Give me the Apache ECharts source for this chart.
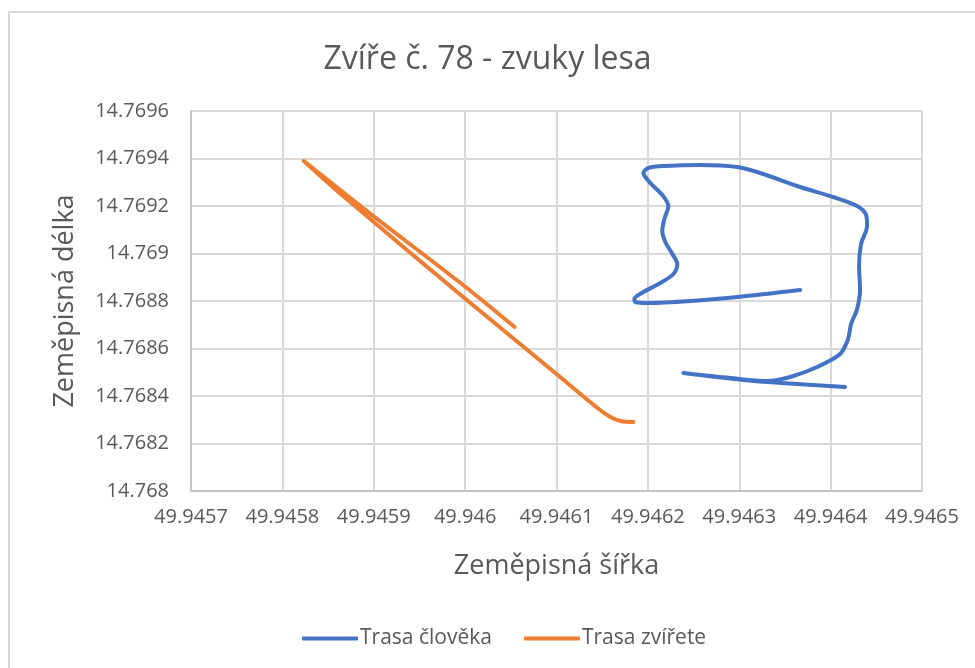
<!DOCTYPE html>
<html>
<head>
<meta charset="utf-8">
<script src="https://cdn.jsdelivr.net/npm/echarts@6/dist/echarts.min.js"></script>
<style>
html,body{margin:0;padding:0;background:#fff;}
#chart{width:975px;height:668px;}
</style>
</head>
<body>
<div id="chart"></div>
<script>
// Trasa člověka (zeměpisná šířka, zeměpisná délka)
var humanLat = [49.9463667,49.9462978,49.9462464,49.9461995,49.9461863,49.9461852,49.9461951,49.9462137,49.9462279,49.9462322,49.9462268,49.9462191,49.9462158,49.9462180,49.9462224,49.9462158,49.9462027,49.9461951,49.9462005,49.9462191,49.9462574,49.9462978,49.9463230,49.9463667,49.9464027,49.9464290,49.9464388,49.9464399,49.9464333,49.9464311,49.9464322,49.9464290,49.9464224,49.9464191,49.9464104,49.9463852,49.9463557,49.9463306,49.9462902,49.9462388,49.9462902,49.9463306,49.9464158];
var humanLon = [14.7688463,14.7688168,14.7688000,14.7687916,14.7687958,14.7688084,14.7688379,14.7688758,14.7689137,14.7689558,14.7689979,14.7690484,14.7690947,14.7691453,14.7692000,14.7692463,14.7692968,14.7693389,14.7693600,14.7693684,14.7693726,14.7693642,14.7693389,14.7692800,14.7692379,14.7692000,14.7691621,14.7691158,14.7690400,14.7689474,14.7688505,14.7687663,14.7687032,14.7686400,14.7685768,14.7685221,14.7684800,14.7684632,14.7684758,14.7684968,14.7684737,14.7684589,14.7684379];
// Trasa zvířete
var animalLat = [49.9460541,49.9460005,49.9458967,49.9458235,49.9458639,49.9460005,49.9461000,49.9461448,49.9461590,49.9461700,49.9461842];
var animalLon = [14.7686905,14.7688590,14.7691663,14.7693895,14.7692505,14.7688084,14.7684926,14.7683495,14.7683116,14.7682947,14.7682905];

var xMin = 49.9457, xMax = 49.9465, xStep = 0.0001;
var yMin = 14.768, yMax = 14.7696, yStep = 0.0002;

function pairs(a, b){ var r=[]; for (var i=0;i<a.length;i++) r.push([a[i], b[i]]); return r; }
function fmt(v){ return String(parseFloat(v.toFixed(4))); }

var FONT = '"Open Sans", "Noto Sans", sans-serif';
var TXT = '#595959';

var chart = echarts.init(document.getElementById('chart'), null, {renderer:'canvas'});
chart.setOption({
  backgroundColor: '#ffffff',
  animation: false,
  title: {
    text: 'Zvíře č. 78 - zvuky lesa',
    left: 'center', top: 39,
    textStyle: {fontFamily: FONT, fontSize: 32, fontWeight: 'normal', color: TXT}
  },
  graphic: [{
    type: 'rect', silent: true,
    shape: {x: 9, y: 12, width: 1000, height: 700},
    style: {fill: 'none', stroke: '#d9d9d9', lineWidth: 2}
  }],
  legend: {
    bottom: 14, left: 297,
    itemWidth: 56, itemHeight: 4, itemGap: 32,
    icon: 'roundRect',
    textStyle: {fontFamily: FONT, fontSize: 21, color: TXT, padding: [0,0,0,-3]},
    data: ['Trasa člověka', 'Trasa zvířete']
  },
  grid: {left: 191, right: 53, top: 111, bottom: 177, containLabel: false},
  xAxis: {
    type: 'value', min: xMin, max: xMax, interval: xStep,
    name: 'Zeměpisná šířka', nameLocation: 'middle', nameGap: 62,
    nameTextStyle: {fontFamily: FONT, fontSize: 27, color: TXT},
    axisLine: {show: true, lineStyle: {color: '#bfbfbf', width: 1.5}},
    axisTick: {show: false},
    splitLine: {show: true, lineStyle: {color: '#d9d9d9', width: 2}},
    axisLabel: {formatter: fmt, fontFamily: FONT, fontSize: 20, color: TXT, margin: 16}
  },
  yAxis: {
    type: 'value', min: yMin, max: yMax, interval: yStep,
    name: 'Zeměpisná délka', nameLocation: 'middle', nameGap: 112, nameRotate: 90,
    nameTextStyle: {fontFamily: FONT, fontSize: 27, color: TXT},
    axisLine: {show: true, lineStyle: {color: '#bfbfbf', width: 1.5}},
    axisTick: {show: false},
    splitLine: {show: true, lineStyle: {color: '#d9d9d9', width: 2}},
    axisLabel: {formatter: fmt, fontFamily: FONT, fontSize: 20, color: TXT, margin: 22}
  },
  series: [{
    name: 'Trasa člověka', type: 'line', showSymbol: false, symbol: 'none',
    smooth: 0.3,
    data: pairs(humanLat, humanLon),
    lineStyle: {color: '#4472c4', width: 4, cap: 'round', join: 'round'},
    itemStyle: {color: '#4472c4'}
  }, {
    name: 'Trasa zvířete', type: 'line', showSymbol: false, symbol: 'none',
    smooth: 0.3,
    data: pairs(animalLat, animalLon),
    lineStyle: {color: '#ed7d31', width: 4, cap: 'round', join: 'round'},
    itemStyle: {color: '#ed7d31'}
  }]
});
</script>
</body>
</html>
